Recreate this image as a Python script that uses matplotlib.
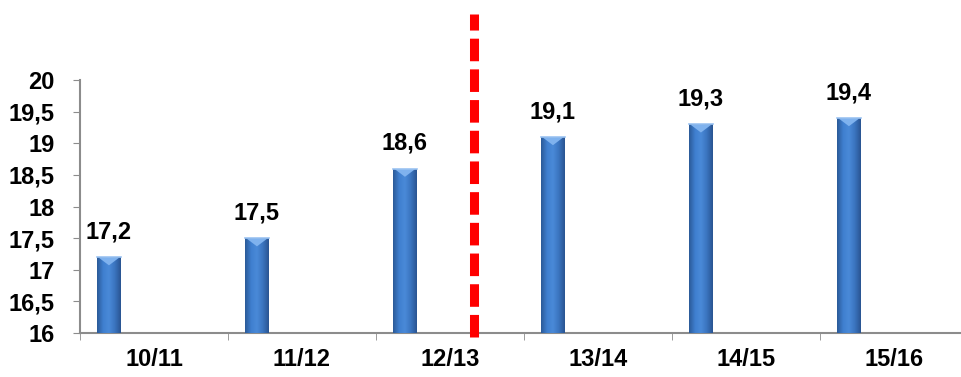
import matplotlib.pyplot as plt
from matplotlib.patches import Polygon
import numpy as np
from matplotlib.colors import LinearSegmentedColormap

seasons = ["10/11", "11/12", "12/13", "13/14", "14/15", "15/16"]
values = [17.2, 17.5, 18.6, 19.1, 19.3, 19.4]
value_labels = ["17,2", "17,5", "18,6", "19,1", "19,3", "19,4"]
y_ticks = [16, 16.5, 17, 17.5, 18, 18.5, 19, 19.5, 20]
y_tick_labels = ["16", "16,5", "17", "17,5", "18", "18,5", "19", "19,5", "20"]
split_after = 2  # forecast starts after 12/13

plt.rcParams["font.family"] = ["Liberation Sans", "DejaVu Sans"]

fig = plt.figure(figsize=(9.61, 3.77), dpi=100)
ax = fig.add_axes([0.0832, 0.1167, 0.924, 0.671])

x = np.arange(len(seasons)) + 0.5
bar_w = 0.162
offset = -0.304
bars = ax.bar(x + offset, [v - 16 for v in values], bottom=16, width=bar_w,
              color="#3a74c0", edgecolor="none", zorder=3)

# cylinder-like shading across each bar
shade = LinearSegmentedColormap.from_list(
    "shade", ["#2b5a98", "#3f7fcf", "#4a8ad8", "#3a74bf", "#2a5592"])
grad = np.linspace(0, 1, 64).reshape(1, -1)
for b in bars:
    x0, y0 = b.get_x(), b.get_y()
    w, h = b.get_width(), b.get_height()
    im = ax.imshow(grad, cmap=shade, aspect="auto", extent=(x0, x0 + w, y0, y0 + h),
                   zorder=3.5, interpolation="bilinear")
    im.set_clip_path(b)
    # bevel at the top
    top = y0 + h
    tri = Polygon([(x0 + w * 0.08, top - 0.01), (x0 + w * 0.92, top - 0.01),
                   (x0 + w * 0.5, top - 0.13)], closed=True,
                  facecolor="#7fb2ee", edgecolor="none", zorder=4)
    ax.add_patch(tri)
    ax.plot([x0, x0 + w], [top, top], color="#9cc4f2", lw=1.2, zorder=4)

for xi, v, lab in zip(x + offset, values, value_labels):
    ax.text(xi, v + 0.22, lab, ha="center", va="bottom", fontsize=17,
            fontweight="bold", color="black")

ax.set_xlim(0, len(seasons))
ax.set_ylim(16, 20)
ax.set_yticks(y_ticks)
ax.set_yticklabels(y_tick_labels, fontsize=17, fontweight="bold")
ax.set_xticks(x)
ax.set_xticklabels(seasons, fontsize=17, fontweight="bold")
ax.set_xticks(np.arange(len(seasons) + 1), minor=True)
ax.tick_params(axis="x", which="major", length=0, pad=11)
ax.tick_params(axis="x", which="minor", length=5, color="#8c8c8c", direction="out")
ax.tick_params(axis="y", length=5, color="#8c8c8c", pad=13)

for s in ["top", "right"]:
    ax.spines[s].set_visible(False)
for s in ["left", "bottom"]:
    ax.spines[s].set_color("#8c8c8c")
    ax.spines[s].set_linewidth(1.5)

# dashed divider between actual and forecast seasons
ax.plot([split_after + 0.662] * 2, [15.94, 21.05], color="#ff0000", lw=6.5,
        dashes=(2.5, 0.9), clip_on=False, zorder=5, solid_capstyle="butt")

fig.savefig("out.png", dpi=100)
